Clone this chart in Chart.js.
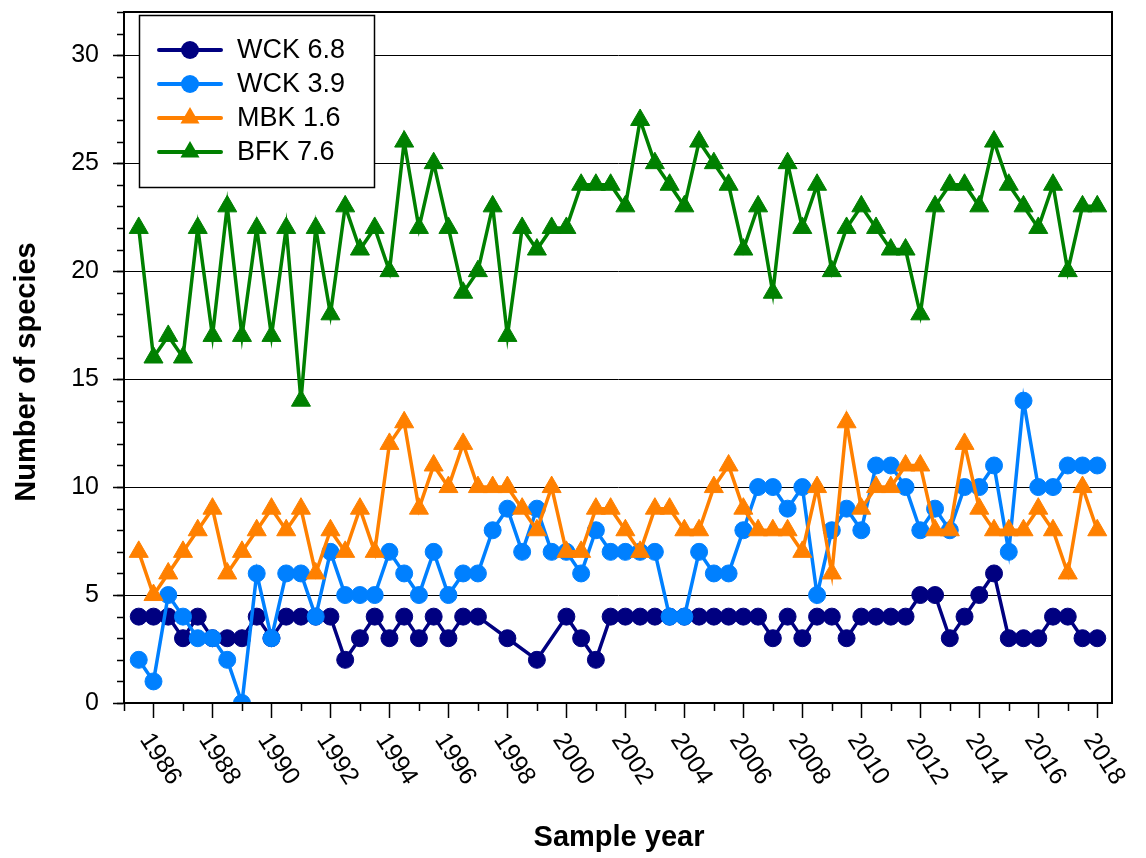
<!DOCTYPE html>
<html>
<head>
<meta charset="utf-8">
<title>Number of species by sample year</title>
<script src="https://cdn.jsdelivr.net/npm/chart.js@4.4.1/dist/chart.umd.min.js"></script>
<style>
  html, body { margin: 0; padding: 0; background: #fff; }
  #wrap { width: 1146px; height: 858px; position: relative; }
</style>
</head>
<body>
<div id="wrap"><canvas id="speciesChart"></canvas></div>
<script>
// --- Data (two samples a year) ---
const SAMPLE_YEARS = [
  1985.5, 1986, 1986.5, 1987, 1987.5, 1988, 1988.5, 1989, 1989.5, 1990,
  1990.5, 1991, 1991.5, 1992, 1992.5, 1993, 1993.5, 1994, 1994.5, 1995,
  1995.5, 1996, 1996.5, 1997, 1997.5, 1998, 1998.5, 1999, 1999.5, 2000,
  2000.5, 2001, 2001.5, 2002, 2002.5, 2003, 2003.5, 2004, 2004.5, 2005,
  2005.5, 2006, 2006.5, 2007, 2007.5, 2008, 2008.5, 2009, 2009.5, 2010,
  2010.5, 2011, 2011.5, 2012, 2012.5, 2013, 2013.5, 2014, 2014.5, 2015,
  2015.5, 2016, 2016.5, 2017, 2017.5, 2018
];

const WCK_68 = [
  4, 4, 4, 3, 4, 3, 3, 3, 4, 3,
  4, 4, 4, 4, 2, 3, 4, 3, 4, 3,
  4, 3, 4, 4, null, 3, null, 2, null, 4,
  3, 2, 4, 4, 4, 4, 4, 4, 4, 4,
  4, 4, 4, 3, 4, 3, 4, 4, 3, 4,
  4, 4, 4, 5, 5, 3, 4, 5, 6, 3,
  3, 3, 4, 4, 3, 3
];

const WCK_39 = [
  2, 1, 5, 4, 3, 3, 2, 0, 6, 3,
  6, 6, 4, 7, 5, 5, 5, 7, 6, 5,
  7, 5, 6, 6, 8, 9, 7, 9, 7, 7,
  6, 8, 7, 7, 7, 7, 4, 4, 7, 6,
  6, 8, 10, 10, 9, 10, 5, 8, 9, 8,
  11, 11, 10, 8, 9, 8, 10, 10, 11, 7,
  14, 10, 10, 11, 11, 11
];

const MBK_16 = [
  7, 5, 6, 7, 8, 9, 6, 7, 8, 9,
  8, 9, 6, 8, 7, 9, 7, 12, 13, 9,
  11, 10, 12, 10, 10, 10, 9, 8, 10, 7,
  7, 9, 9, 8, 7, 9, 9, 8, 8, 10,
  11, 9, 8, 8, 8, 7, 10, 6, 13, 9,
  10, 10, 11, 11, 8, 8, 12, 9, 8, 8,
  8, 9, 8, 6, 10, 8
];

const BFK_76 = [
  22, 16, 17, 16, 22, 17, 23, 17, 22, 17,
  22, 14, 22, 18, 23, 21, 22, 20, 26, 22,
  25, 22, 19, 20, 23, 17, 22, 21, 22, 22,
  24, 24, 24, 23, 27, 25, 24, 23, 26, 25,
  24, 21, 23, 19, 25, 22, 24, 20, 22, 23,
  22, 21, 21, 18, 23, 24, 24, 23, 26, 24,
  23, 22, 24, 20, 23, 23
];

const SERIES_NAMES = ['WCK 6.8', 'WCK 3.9', 'MBK 1.6', 'BFK 7.6'];
const X_TICK_LABELS = ['1986', '1988', '1990', '1992', '1994', '1996', '1998', '2000',
  '2002', '2004', '2006', '2008', '2010', '2012', '2014', '2016', '2018'];
const X_TITLE = 'Sample year';
const Y_TITLE = 'Number of species';

// --- Look ---
const FONT = '"Liberation Sans", Arial, Helvetica, sans-serif';
const COLORS = ['#000080', '#0080ff', '#ff8000', '#008000'];
const MARKERS = ['circle', 'circle', 'triangle', 'triangle'];

function toPoints(values) {
  return SAMPLE_YEARS.map((yr, i) => ({ x: yr, y: values[i] }));
}

const seriesValues = [WCK_68, WCK_39, MBK_16, BFK_76];

const datasets = seriesValues.map((vals, i) => ({
  label: SERIES_NAMES[i],
  data: toPoints(vals),
  borderColor: COLORS[i],
  backgroundColor: COLORS[i],
  borderWidth: 3.5,
  pointStyle: MARKERS[i],
  pointRadius: MARKERS[i] === 'circle' ? 8.5 : 11,
  pointBorderWidth: 1,
  pointBorderColor: COLORS[i],
  pointBackgroundColor: COLORS[i],
  spanGaps: true,
  tension: 0,
  order: 4 - i // first series sits at the bottom
}));

// small helper for the legend markers
function drawMarker(ctx, style, x, y, r) {
  ctx.beginPath();
  if (style === 'circle') {
    ctx.arc(x, y, r, 0, Math.PI * 2);
  } else {
    ctx.moveTo(x, y - r);
    ctx.lineTo(x + r * Math.sin(Math.PI * 2 / 3), y + r / 2);
    ctx.lineTo(x - r * Math.sin(Math.PI * 2 / 3), y + r / 2);
    ctx.closePath();
  }
  ctx.fill();
}

// --- Frame, minor ticks, slanted year labels, titles and boxed legend ---
const decorPlugin = {
  id: 'decor',
  afterDraw(chart) {
    const { ctx, chartArea: a, scales: { x, y } } = chart;
    ctx.save();
    ctx.strokeStyle = '#000';

    // box around the plot
    ctx.lineWidth = 2;
    ctx.strokeRect(a.left, a.top, a.right - a.left, a.bottom - a.top);

    // minor y ticks
    ctx.lineWidth = 1.5;
    ctx.beginPath();
    for (let v = 0; v <= y.max; v++) {
      const py = Math.round(y.getPixelForValue(v)) + 0.5;
      ctx.moveTo(a.left - 7, py);
      ctx.lineTo(a.left, py);
    }
    // x ticks, long on even years
    for (let yr = Math.ceil(x.min); yr <= x.max; yr++) {
      const px = Math.round(x.getPixelForValue(yr)) + 0.5;
      ctx.moveTo(px, a.bottom);
      ctx.lineTo(px, a.bottom + (yr % 2 === 0 ? 15 : 8));
    }
    ctx.stroke();

    // year labels, slanted down to the right
    ctx.fillStyle = '#000';
    ctx.font = '25px ' + FONT;
    ctx.textAlign = 'left';
    ctx.textBaseline = 'top';
    X_TICK_LABELS.forEach(label => {
      const px = x.getPixelForValue(Number(label));
      ctx.save();
      ctx.translate(px + 2, a.bottom + 26);
      ctx.rotate(57 * Math.PI / 180);
      ctx.fillText(label, 0, 0);
      ctx.restore();
    });

    // axis titles
    ctx.font = 'bold 29px ' + FONT;
    ctx.textAlign = 'center';
    ctx.textBaseline = 'middle';
    ctx.fillText(X_TITLE, 619, 838);
    ctx.save();
    ctx.translate(27, 372);
    ctx.rotate(-Math.PI / 2);
    ctx.fillText(Y_TITLE, 0, 0);
    ctx.restore();

    // legend box
    ctx.fillStyle = '#fff';
    ctx.fillRect(139, 15, 235, 172);
    ctx.lineWidth = 1.5;
    ctx.strokeRect(139.5, 15.5, 235, 172);
    ctx.font = '27px ' + FONT;
    ctx.textAlign = 'left';
    chart.data.datasets.forEach((ds, i) => {
      const ly = 50 + i * 34;
      ctx.strokeStyle = ds.borderColor;
      ctx.fillStyle = ds.backgroundColor;
      ctx.lineWidth = 4;
      ctx.lineCap = 'round';
      ctx.beginPath();
      ctx.moveTo(159, ly);
      ctx.lineTo(221, ly);
      ctx.stroke();
      drawMarker(ctx, ds.pointStyle, 190, ly, ds.pointStyle === 'circle' ? 9 : 11);
      ctx.fillStyle = '#000';
      ctx.fillText(ds.label, 237, ly + 1);
    });
    ctx.restore();
  }
};

const ctx = document.getElementById('speciesChart').getContext('2d');
new Chart(ctx, {
  type: 'line',
  data: { datasets },
  options: {
    responsive: true,
    maintainAspectRatio: false,
    animation: false,
    layout: { padding: { top: 10, right: 34, left: 0, bottom: 0 } },
    plugins: { legend: { display: false }, tooltip: { enabled: false } },
    scales: {
      x: {
        type: 'linear',
        min: 1985,
        max: 2018.5,
        ticks: { display: false },
        grid: { display: false },
        border: { display: true, color: '#000', width: 2 },
        afterFit(scale) {
          scale.height = 155;
          scale.paddingLeft = 0;
          scale.paddingRight = 0;
        }
      },
      y: {
        min: 0,
        max: 32,
        ticks: {
          stepSize: 5,
          includeBounds: false,
          color: '#000',
          padding: 14,
          font: { family: FONT, size: 25 }
        },
        grid: {
          color: '#000',
          lineWidth: 1,
          tickLength: 11,
          tickColor: '#000',
          tickWidth: 1.5
        },
        border: { display: true, color: '#000', width: 2 },
        afterFit(scale) {
          scale.width = 124;
          scale.paddingTop = 0;
          scale.paddingBottom = 0;
        }
      }
    }
  },
  plugins: [decorPlugin]
});
</script>
</body>
</html>
